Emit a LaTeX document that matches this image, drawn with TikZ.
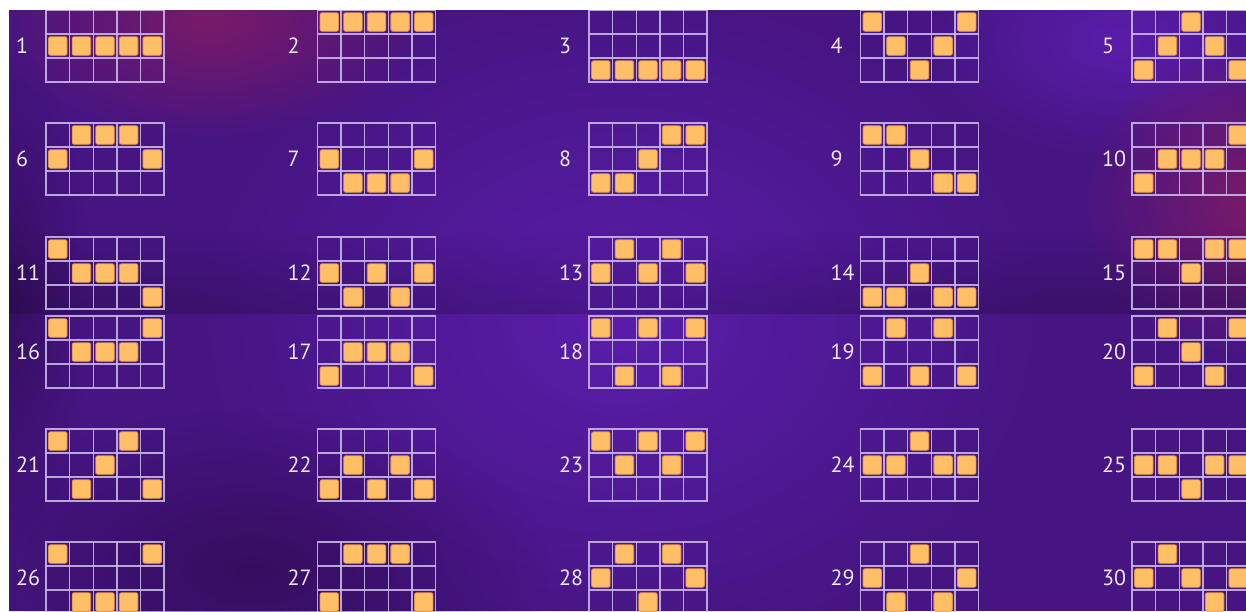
\documentclass[tikz,border=0pt]{standalone}
\usepackage{fontspec}
\setmainfont{PT Sans}
\usetikzlibrary{fadings}

\definecolor{bgbase}{HTML}{461582}
\definecolor{bgglow}{HTML}{5A1DAA}
\definecolor{bgpink}{HTML}{7A1A68}
\definecolor{bgdark}{HTML}{2E0A50}
\definecolor{gridline}{HTML}{C8B6E6}
\definecolor{hitfill}{HTML}{FFBF66}
\definecolor{hitedge}{HTML}{E3913C}
\definecolor{labeltext}{HTML}{EDE6F5}

\tikzfading[name=glow, inner color=transparent!0, outer color=transparent!100]
\tikzfading[name=seamfade, top color=transparent!100, bottom color=transparent!0]

\tikzstyle{frame} = [rectangle,draw=gridline,draw opacity=0.9,line width=1.4pt,minimum width=118pt,minimum height=72pt,inner sep=0pt]
\tikzstyle{reel} = [draw=gridline,draw opacity=0.9,line width=1.4pt]
\tikzstyle{hit} = [rectangle,rounded corners=2pt,fill=hitfill,draw=hitedge,line width=0.8pt,minimum width=18.5pt,minimum height=18.5pt,inner sep=0pt]
\tikzstyle{lineno} = [anchor=west,text=labeltext,inner sep=0pt,font=\fontsize{22}{24}\selectfont]

\begin{document}
\begin{tikzpicture}[x=1pt,y=-1pt]
	\useasboundingbox (0,0) rectangle (1246,611);
	\fill[white] (0,0) rectangle (1246,611);
	\begin{scope}
		\clip (9,10) rectangle (1246,611);
		\fill[bgbase] (9,10) rectangle (1246,611);
		% background glow
		\fill[bgglow,path fading=glow] (620,320) ellipse (430 and 340);
		\fill[bgglow,path fading=glow] (1120,40) ellipse (200 and 120);
		\fill[bgpink,path fading=glow] (210,20) ellipse (220 and 120);
		\fill[bgpink,path fading=glow] (1250,200) ellipse (170 and 160);
		\fill[bgdark,fill opacity=0.7,path fading=glow] (250,570) ellipse (300 and 160);
		\fill[bgdark,fill opacity=0.7,path fading=glow] (0,300) ellipse (90 and 260);
		\fill[black,opacity=0.18,path fading=seamfade] (9,230) rectangle (1246,314);
		% paylines
		\foreach \n/\ra/\rb/\rc/\rd/\re in {
			1/1/1/1/1/1, 2/0/0/0/0/0, 3/2/2/2/2/2, 4/0/1/2/1/0, 5/2/1/0/1/2,
			6/1/0/0/0/1, 7/1/2/2/2/1, 8/2/2/1/0/0, 9/0/0/1/2/2, 10/2/1/1/1/0,
			11/0/1/1/1/2, 12/1/2/1/2/1, 13/1/0/1/0/1, 14/2/2/1/2/2, 15/0/0/1/0/0,
			16/0/1/1/1/0, 17/2/1/1/1/2, 18/0/2/0/2/0, 19/2/0/2/0/2, 20/2/0/1/2/0,
			21/0/2/1/0/2, 22/2/1/2/1/2, 23/0/1/0/1/0, 24/1/1/0/1/1, 25/1/1/2/1/1,
			26/0/2/2/2/0, 27/2/0/0/0/2, 28/1/0/2/0/1, 29/1/2/0/2/1, 30/1/0/1/2/1}
		{
			\pgfmathsetmacro\gx{46+271.5*mod(\n-1,5)}
			\pgfmathsetmacro\gy{{10,123,237,316,429,542}[int((\n-1)/5)]}
			\node[frame] (g\n) at (\gx+59,\gy+36) {};
			\node[lineno] (n\n) at (\gx-30,\gy+36) {\n};
			\foreach \k in {1,...,4}
			{\draw[reel] (\gx+23.6*\k,\gy) -- ++(0,72);}
			\foreach \k in {1,2}
			{\draw[reel] (\gx,\gy+24*\k) -- ++(118,0);}
			\foreach \col/\row in {1/\ra,2/\rb,3/\rc,4/\rd,5/\re}
			{\node[hit] (h\n-\col) at (\gx+23.6*\col-11.8,\gy+24*\row+12) {};}
		}
	\end{scope}
\end{tikzpicture}
\end{document}
